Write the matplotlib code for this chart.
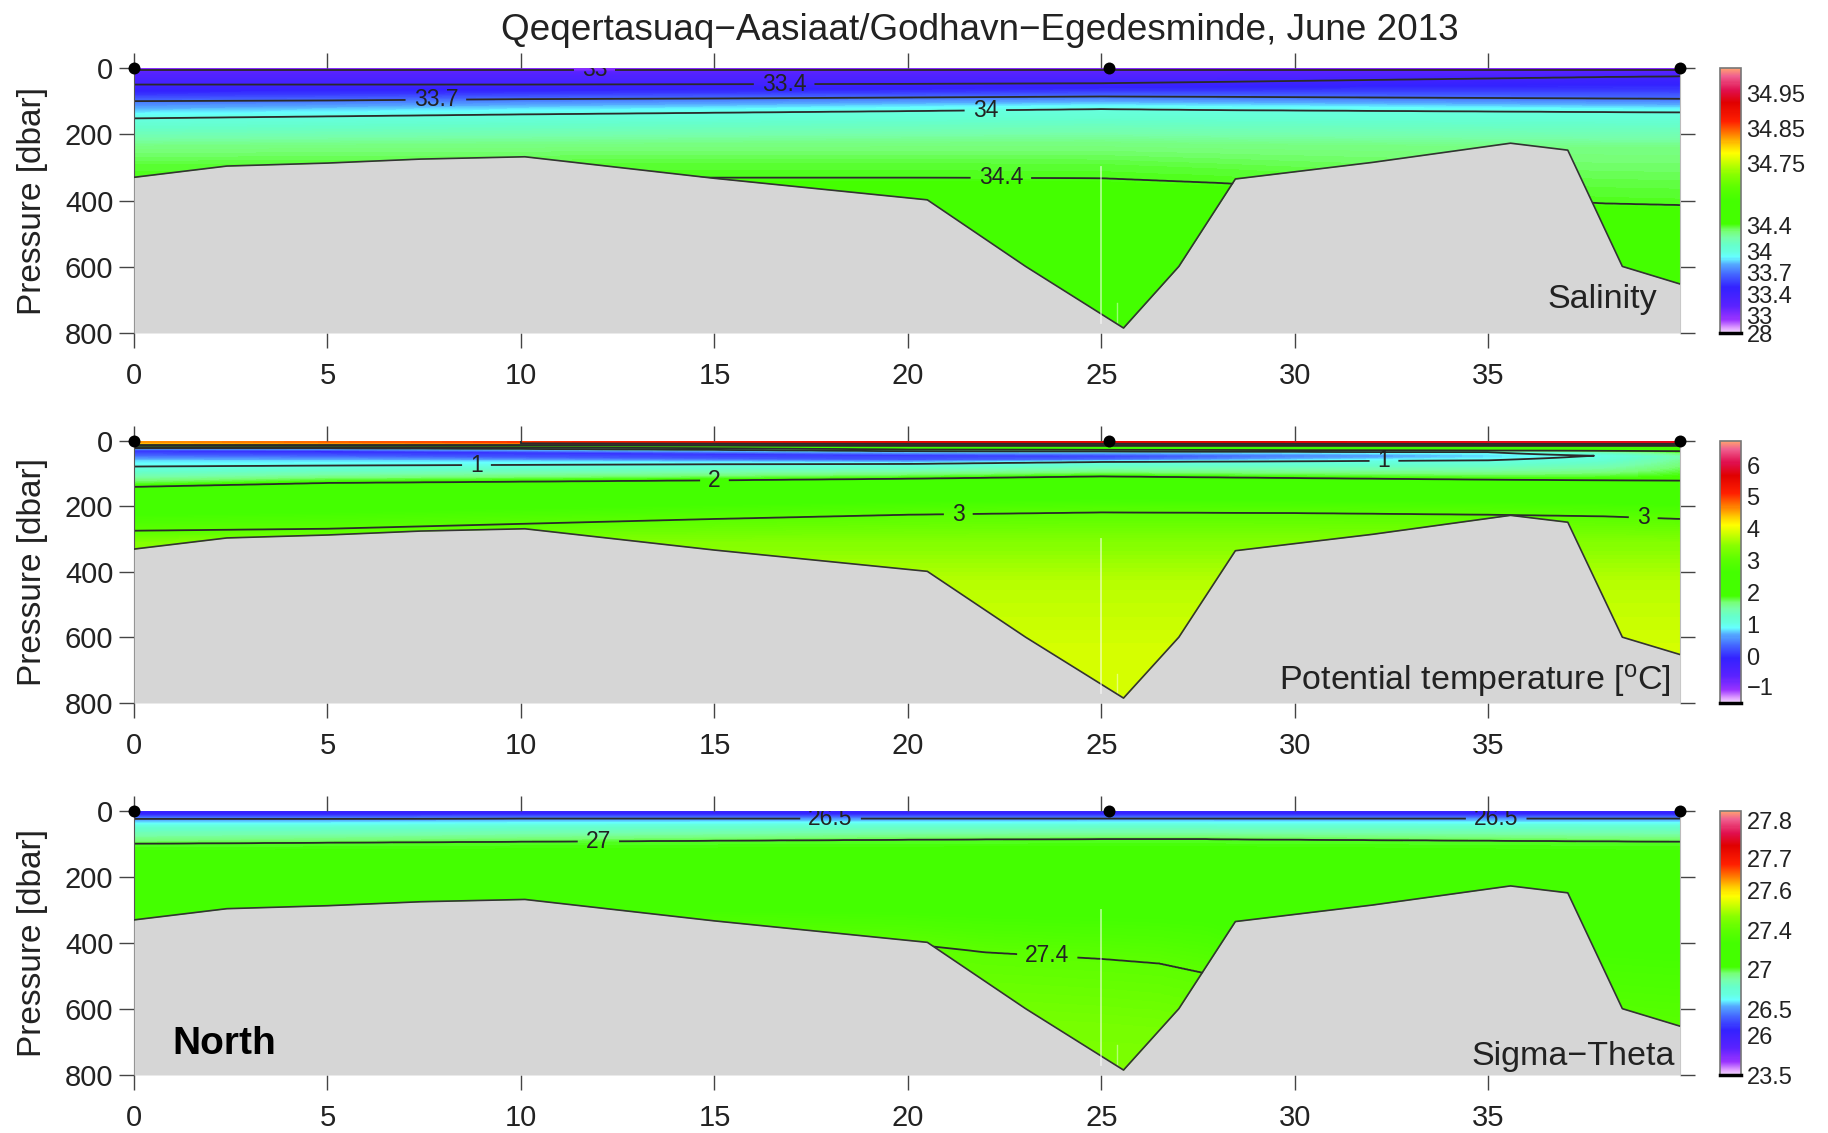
import numpy as np
import matplotlib
matplotlib.use("Agg")
import matplotlib.pyplot as plt
from matplotlib.colors import LinearSegmentedColormap, FuncNorm
from matplotlib.cm import ScalarMappable

plt.rcParams['font.family'] = ['Liberation Sans', 'DejaVu Sans']
plt.rcParams['mathtext.fontset'] = 'custom'
plt.rcParams['mathtext.rm'] = 'Liberation Sans'
plt.rcParams['mathtext.default'] = 'regular'

TITLE = "Qeqertasuaq\u2212Aasiaat/Godhavn\u2212Egedesminde, June 2013"
XMAX = 39.95
XTICKS = [0, 5, 10, 15, 20, 25, 30, 35]
YTICKS = [0, 200, 400, 600, 800]
STATIONS = [0, 25.2, 39.95]

# sea floor
GROUND_X = [0, 2.4, 5, 7.4, 10.1, 15, 20.5, 23.04, 25.57, 27.0, 28.46, 32, 35.57, 37.05, 38.46, 39.95]
GROUND_P = [330, 296, 287, 275, 268, 333, 398, 599, 785, 599, 335, 285, 227, 248, 599, 652]

# salinity: value and depth of each level at each section distance
S_X = [0, 5, 10, 15, 20, 25, 28, 38, 39.95]
S_V = [32.6, 33.0, 33.2, 33.4, 33.55, 33.7, 33.85, 34.0, 34.3, 34.39, 34.4, 34.5, 34.55]
S_D = [
    [0, 0, 0, 0, 0, 0, 0, 0, 0],
    [5, 5, 5, 5, 5, 5, 5, 5, 5],
    [12, 12, 12, 12, 12, 12, 12, 10, 10],
    [50, 50, 50, 49, 48, 46, 42, 27, 25],
    [80, 78, 76, 74, 72, 68, 68, 66, 66],
    [100, 98, 94, 92, 89, 86, 87, 92, 93],
    [124, 120, 115, 112, 108, 104, 106, 112, 113],
    [152, 146, 140, 135, 130, 124, 127, 133, 134],
    [235, 232, 230, 228, 226, 225, 230, 240, 240],
    [300, 300, 298, 297, 297, 300, 315, 380, 385],
    [335, 335, 332, 331, 331, 333, 347, 409, 414],
    [430, 430, 430, 430, 430, 430, 440, 480, 490],
    [900, 900, 900, 900, 900, 900, 900, 900, 900],
]
S_CONTOURS = [33, 33.4, 33.7, 34, 34.4]
S_LABELS = [(11.9, 5), (16.8, 48), (7.8, 93), (22.0, 127), (22.4, 332)]
S_TICKS = [28, 33, 33.4, 33.7, 34, 34.4, 34.75, 34.85, 34.95]
S_TICKFRAC = [0, .067, .146, .228, .306, .404, .640, .773, .905]
S_RANGE = (28, 35.05)

# potential temperature: values vary by station near the surface and in the cold layer
T_X = [0, 5, 10, 15, 20, 25, 30, 35, 38, 39.95]
T_V = [
    [4.6, 4.8, 5.0, 5.3, 5.6, 5.6, 5.7, 5.8, 5.8, 5.8],
    [4.6, 4.8, 5.0, 5.3, 5.6, 5.6, 5.7, 5.8, 5.8, 5.8],
    [4, 4, 4, 4, 4, 4, 4, 4, 4, 4],
    [3, 3, 3, 3, 3, 3, 3, 3, 3, 3],
    [2, 2, 2, 2, 2, 2, 2, 2, 2, 2],
    [1, 1, 1, 1, 1, 1, 1, 1, 1.3, 1.7],
    [0.05, 0.0, 0.05, 0.05, 0.1, 0.15, 0.5, 0.8, 1.02, 1.45],
    [0.25, 0.25, 0.25, 0.25, 0.25, 0.35, 0.65, 0.85, 1.08, 1.5],
    [0.8, 0.8, 0.8, 0.8, 0.8, 0.8, 0.85, 0.92, 1.12, 1.55],
    [1, 1, 1, 1, 1, 1, 1, 1, 1.2, 1.6],
    [2, 2, 2, 2, 2, 2, 2, 2, 2, 2],
    [3, 3, 3, 3, 3, 3, 3, 3, 3, 3],
    [3.4, 3.4, 3.4, 3.4, 3.4, 3.4, 3.4, 3.4, 3.4, 3.4],
    [3.7, 3.7, 3.7, 3.7, 3.7, 3.7, 3.7, 3.7, 3.7, 3.7],
    [3.85, 3.85, 3.85, 3.85, 3.85, 3.85, 3.85, 3.85, 3.85, 3.85],
    [3.9, 3.9, 3.9, 3.9, 3.9, 3.9, 3.9, 3.9, 3.9, 3.9],
]
T_D = [
    [0, 0, 0, 0, 0, 0, 0, 0, 0, 0],
    [7, 7, 7, 7, 7, 7, 7, 7, 7, 7],
    [11, 11, 11, 11, 11, 11, 11, 11, 11, 11],
    [14, 14, 14, 14, 15, 15, 15, 15, 15, 15],
    [19, 19, 20, 22, 26, 27, 28, 29, 30, 31],
    [22, 22, 24, 27, 31, 32, 33, 34, 36, 38],
    [30, 32, 36, 40, 44, 46, 45, 45, 45, 48],
    [40, 43, 48, 52, 56, 55, 52, 50, 50, 52],
    [60, 60, 61, 63, 65, 60, 57, 54, 54, 56],
    [78, 75, 73, 71, 70, 64, 62, 59, 60, 62],
    [140, 128, 124, 120, 115, 108, 113, 118, 120, 121],
    [274, 268, 253, 238, 225, 218, 220, 225, 230, 238],
    [310, 310, 310, 310, 310, 310, 310, 310, 310, 310],
    [430, 430, 430, 430, 430, 430, 430, 430, 430, 430],
    [620, 620, 620, 620, 620, 620, 620, 620, 620, 620],
    [900, 900, 900, 900, 900, 900, 900, 900, 900, 900],
]
T_CONTOURS = [1, 2, 3, 4, 5]
T_LABELS = [(8.85, 73), (32.3, 61), (15.0, 120), (21.3, 222), (39.0, 234)]
T_TICKS = [-1, 0, 1, 2, 3, 4, 5, 6]
T_TICKFRAC = [.063, .179, .300, .422, .545, .667, .787, .908]
T_RANGE = (-1.55, 6.75)

# sigma-theta
G_X = [0, 5, 10, 15, 20, 22, 25, 26.5, 27.7, 28.5, 39.95]
G_V = [26.05, 26.15, 26.5, 26.75, 27.0, 27.2, 27.4, 27.44, 27.46]
G_D = [
    [0, 0, 0, 0, 0, 0, 0, 0, 0, 0, 0],
    [10, 10, 10, 10, 10, 10, 10, 10, 10, 10, 10],
    [24, 24, 23, 23, 23, 23, 23, 23, 23, 23, 23],
    [50, 50, 48, 47, 46, 46, 45, 45, 45, 46, 48],
    [99, 96, 93, 90, 87, 86, 85, 85, 85, 86, 93],
    [260, 260, 260, 260, 260, 260, 260, 260, 260, 260, 300],
    [380, 380, 380, 380, 402, 428, 448, 462, 492, 560, 700],
    [580, 580, 580, 580, 602, 628, 648, 662, 692, 760, 900],
    [900, 900, 900, 900, 900, 900, 900, 900, 900, 900, 1000],
]
G_CONTOURS = [26.5, 27, 27.4]
G_LABELS = [(18.0, 23), (35.2, 23), (12.0, 91), (23.6, 437)]
G_TICKS = [23.5, 26, 26.5, 27, 27.4, 27.6, 27.7, 27.8]
G_TICKFRAC = [0, .148, .249, .401, .549, .699, .820, .965]
G_RANGE = (23.5, 27.82)

PANEL_TEXT = ["Salinity", "Potential temperature [$^{o}$C]", "Sigma\u2212Theta"]
PANEL_TEXT_RIGHT = [39.37, 39.72, 39.82]
PANEL_TEXT_P = [700, 732, 743]

CMAP = LinearSegmentedColormap.from_list("ctd", [
    (0.00, "#f2d8ff"), (0.02, "#dd99ff"), (0.05, "#9933ff"), (0.10, "#5a22ff"),
    (0.17, "#3322ff"), (0.22, "#4466ff"), (0.26, "#55aaff"), (0.285, "#66ffff"),
    (0.305, "#66ffe0"), (0.33, "#66ffcc"), (0.36, "#77ffaa"), (0.385, "#77ff77"), (0.41, "#44ff00"),
    (0.50, "#44ff00"), (0.55, "#5cff00"), (0.60, "#88ff00"), (0.645, "#ccff00"),
    (0.68, "#ffff00"), (0.71, "#ffd000"), (0.75, "#ff8000"), (0.80, "#ff2000"),
    (0.87, "#e00000"), (0.92, "#e01050"), (0.97, "#f06090"), (1.00, "#ffa070"),
])

W, H = 1828, 1133
fig = plt.figure(figsize=(W / 100, H / 100), dpi=100)

xf = np.linspace(0, XMAX, 500)
pf = np.arange(0, 801, 1.0)


def field(X, V, D):
    V = np.asarray(V, float)
    if V.ndim == 1:
        V = np.tile(V[:, None], (1, len(X)))
    D = np.asarray(D, float)
    out = np.empty((pf.size, xf.size))
    for j, x in enumerate(xf):
        d = [np.interp(x, X, r) for r in D]
        v = [np.interp(x, X, r) for r in V]
        out[:, j] = np.interp(pf, d, v)
    return out


def make_norm(ticks, fracs, rng):
    vals = [rng[0]] + list(ticks) + [rng[1]]
    frs = [0.0] + list(fracs) + [1.0]
    pairs = sorted(set(zip(vals, frs)))
    vs = np.array([a for a, _ in pairs])
    fs = np.array([b for _, b in pairs])
    return FuncNorm((lambda a: np.interp(a, vs, fs), lambda b: np.interp(b, fs, vs)),
                    vmin=rng[0], vmax=rng[1])


panels = [
    (68, 333, S_X, S_V, S_D, S_CONTOURS, S_LABELS, S_TICKS, S_TICKFRAC, S_RANGE),
    (441, 703, T_X, T_V, T_D, T_CONTOURS, T_LABELS, T_TICKS, T_TICKFRAC, T_RANGE),
    (811, 1075, G_X, G_V, G_D, G_CONTOURS, G_LABELS, G_TICKS, G_TICKFRAC, G_RANGE),
]
TICK_C = "#444444"

for i, (top, bot, X, V, D, CL, LB, TK, TF, RG) in enumerate(panels):
    ax = fig.add_axes([134 / W, 1 - bot / H, (1680 - 134) / W, (bot - top) / H])
    F = field(X, V, D)
    norm = make_norm(TK, TF, RG)
    ax.pcolormesh(xf, pf, F, cmap=CMAP, norm=norm, shading="nearest", zorder=1)
    cs = ax.contour(xf, pf, F, levels=CL, colors="#2a2a2a", linewidths=1.3, zorder=2)
    labs = cs.clabel(CL, manual=LB, fmt="%g", fontsize=16.5, inline=True, inline_spacing=8, colors="#222222")
    for t in labs:
        t.set_clip_on(True)
        t.set_clip_box(ax.bbox)
        t.set_rotation(0)
    ax.fill_between(GROUND_X, GROUND_P, 800, color="#d6d6d6", lw=0, zorder=3)
    ax.plot(GROUND_X, GROUND_P, color="#333333", lw=1.2, zorder=4)
    ax.plot([25, 25], [300, 770], color="white", alpha=0.55, lw=1.3, zorder=4.5)
    ax.plot([25.4, 25.4], [710, 790], color="white", alpha=0.45, lw=1.0, zorder=2.5)
    ax.plot(STATIONS, [0] * len(STATIONS), "o", color="black", ms=8.6, mew=0, clip_on=False, zorder=6)
    ax.set_xlim(0, XMAX)
    ax.set_ylim(800, 0)
    ax.set_xticks(XTICKS)
    ax.set_yticks(YTICKS)
    ax.tick_params(axis="x", which="both", top=True, bottom=True, length=10.8, width=1.0,
                   color=TICK_C, labelsize=21, pad=10, labelcolor="#222222")
    ax.tick_params(axis="y", which="both", left=True, right=True, length=10.8, width=1.0,
                   color=TICK_C, labelsize=21, pad=4, labelcolor="#222222")
    for s in ["top", "bottom"]:
        ax.spines[s].set_visible(False)
    ax.spines["left"].set_color("#555555")
    ax.spines["right"].set_color("#bbbbbb")
    fig.text(33 / W, 1 - (top + bot) / 2 / H, "Pressure [dbar]", rotation=90, ha="center", va="center",
             fontsize=24, color="#222222")
    ax.text(PANEL_TEXT_RIGHT[i], PANEL_TEXT_P[i], PANEL_TEXT[i], ha="right", va="center", fontsize=24.5,
            color="#222222", zorder=7)
    if i == 2:
        ax.text(1.0, 707, "North", ha="left", va="center", fontsize=28, fontweight="bold", color="black", zorder=7)

    cax = fig.add_axes([1720 / W, 1 - bot / H, 21 / W, (bot - top) / H])
    cb = fig.colorbar(ScalarMappable(norm=norm, cmap=CMAP), cax=cax, ticks=TK)
    cb.ax.set_yticklabels([f"{v:g}".replace("-", "\u2212") for v in TK])
    cb.ax.tick_params(length=0, labelsize=17, pad=4, labelcolor="#222222")
    cb.ax.minorticks_off()
    cb.outline.set_edgecolor("#777777")
    cb.outline.set_linewidth(1.2)
    cax.plot([0, 1], [0, 0], transform=cax.transAxes, color="black", lw=2.5, clip_on=False, zorder=8)

fig.text(980 / W, 1 - 30 / H, TITLE, ha="center", va="center", fontsize=26.6, color="#222222")
fig.savefig("out.png", dpi=100)
